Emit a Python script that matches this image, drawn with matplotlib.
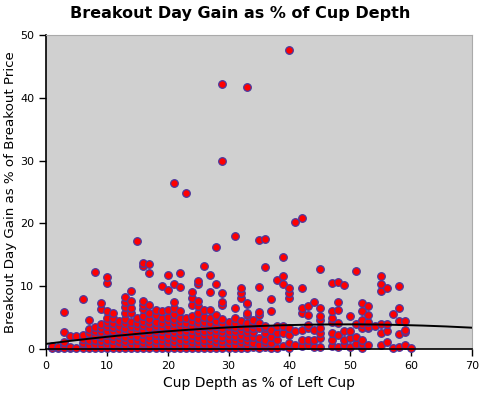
import numpy as np
import matplotlib
matplotlib.use("Agg")
import matplotlib.pyplot as plt

# Cup depth (% of left cup) for each column of points
depths = list(range(1, 61))

# Breakout day gain (% of breakout price), one list per cup depth
gains = [
    [0.2, 0.5],
    [0.1, 0.4],
    [0.2, 0.6, 1.2, 2.7, 5.9],
    [0.1, 0.4, 2.1],
    [0.2, 2.1],
    [0.2, 0.9, 1.6, 2.3, 8.0],
    [0.1, 0.7, 1.4, 2.5, 3.2, 4.6],
    [0.2, 0.8, 1.5, 2.2, 2.9, 3.5, 12.3],
    [0.1, 0.6, 1.3, 2.0, 2.7, 3.4, 4.0, 6.4, 7.4],
    [0.2, 0.8, 1.5, 2.2, 2.9, 3.6, 4.3, 5.0, 6.0, 10.6, 11.5],
    [0.1, 0.7, 1.4, 2.1, 2.8, 3.5, 4.2, 4.9, 5.7],
    [0.2, 0.9, 1.6, 2.3, 3.0, 3.7, 4.4],
    [0.1, 0.6, 1.3, 2.0, 2.7, 3.4, 4.1, 4.8, 5.8, 6.7, 7.5, 8.3],
    [0.2, 0.8, 1.5, 2.2, 2.9, 3.6, 4.3, 5.8, 6.5, 7.6, 9.2],
    [0.1, 0.7, 1.4, 2.1, 2.8, 3.5, 4.2, 4.9, 17.2],
    [0.2, 0.9, 1.6, 2.4, 3.1, 3.8, 4.5, 5.2, 6.4, 7.0, 7.6, 13.2, 13.7],
    [0.1, 0.6, 1.3, 2.0, 2.7, 3.4, 4.1, 4.8, 5.7, 7.0, 12.1, 13.5],
    [0.2, 0.8, 1.5, 2.2, 2.9, 3.6, 4.3, 5.4, 6.3],
    [0.1, 0.7, 1.4, 2.1, 2.8, 3.5, 4.2, 4.9, 6.1, 10.1],
    [0.2, 0.9, 1.6, 2.3, 3.0, 3.7, 4.4, 5.1, 6.3, 9.4, 11.8],
    [0.1, 0.6, 1.3, 2.0, 2.7, 3.4, 4.1, 4.8, 5.6, 6.6, 7.5, 10.3, 26.5],
    [0.2, 0.8, 1.5, 2.2, 2.9, 3.6, 4.3, 5.0, 6.1, 9.9, 12.1],
    [0.1, 0.7, 1.4, 2.1, 2.8, 3.5, 4.2, 4.9, 24.9],
    [0.2, 0.9, 1.6, 2.3, 3.0, 3.7, 4.4, 5.2, 7.0, 8.1, 9.1],
    [0.1, 0.6, 1.3, 2.0, 2.7, 3.4, 4.1, 4.8, 5.8, 6.8, 7.6, 10.3, 10.8],
    [0.2, 0.8, 1.5, 2.2, 2.9, 3.6, 4.3, 5.1, 6.3, 13.3],
    [0.1, 0.7, 1.4, 2.1, 2.8, 3.5, 4.2, 4.9, 6.2, 9.1, 11.8],
    [0.2, 0.9, 1.6, 2.3, 3.0, 3.7, 4.4, 5.4, 10.4, 16.3],
    [0.1, 0.6, 1.3, 2.0, 2.7, 3.4, 4.1, 4.8, 7.0, 7.5, 8.9, 30.0, 42.2],
    [0.2, 0.8, 1.5, 2.2, 2.9, 3.6, 4.3],
    [0.1, 0.7, 1.4, 2.1, 2.8, 3.5, 4.2, 4.9, 6.6, 18.0],
    [0.2, 0.9, 1.6, 2.3, 3.0, 3.7, 4.4, 8.2, 8.9, 9.7],
    [0.1, 0.6, 1.3, 2.0, 2.7, 3.4, 4.1, 5.4, 5.8, 7.2, 7.3, 41.7],
    [0.4, 0.9, 2.0, 2.7, 3.3, 4.0, 4.6],
    [0.2, 0.6, 1.7, 3.3, 4.1, 5.4, 5.9, 9.9, 17.4],
    [0.3, 0.9, 1.4, 2.5, 3.3, 3.6, 13.0, 17.6],
    [0.2, 1.0, 2.0, 3.0, 6.1, 8.0],
    [0.2, 1.4, 2.5, 3.6, 11.0],
    [0.5, 2.5, 3.6, 10.3, 11.7, 14.6],
    [0.2, 0.9, 2.2, 3.4, 8.2, 8.9, 9.8, 47.6],
    [0.6, 2.8, 20.3],
    [0.5, 1.5, 3.0, 5.8, 6.6, 9.8, 20.9],
    [0.6, 1.4, 3.3, 3.8, 5.4, 6.8],
    [0.4, 1.4, 3.0, 7.5],
    [0.4, 1.7, 2.5, 3.3, 4.7, 5.2, 6.6, 12.8],
    [],
    [0.5, 1.4, 2.5, 4.3, 4.9, 6.1, 10.6],
    [0.4, 2.2, 4.2, 6.3, 7.5, 10.7],
    [0.6, 1.4, 2.8, 10.2],
    [0.4, 1.7, 2.8, 5.3],
    [0.8, 1.85, 4.0, 12.5],
    [0.1, 0.8, 1.4, 3.4, 4.0, 4.6, 6.1, 7.3],
    [0.6, 3.4, 3.5, 4.3, 5.4, 6.8],
    [3.7],
    [0.6, 2.6, 4.0, 9.3, 10.3, 11.7],
    [1.2, 2.9, 4.0, 9.8],
    [0.1, 5.6],
    [0.4, 2.4, 4.5, 6.6, 10.1],
    [0.7, 2.7, 3.0, 4.5],
    [0.1],
]

# trend line at a few depths
trend_x = [0, 17, 34, 51, 70]
trend_y = [0.9, 2.45, 3.65, 4.05, 3.35]

x = [d for d, g in zip(depths, gains) for _ in g]
y = [v for g in gains for v in g]

fig = plt.figure(figsize=(4.8, 3.94), dpi=100)
ax = fig.add_axes([0.096, 0.114, 0.887, 0.797])
ax.set_facecolor('#d0d0d0')

ax.scatter(x, y, s=30, c='red', edgecolors='#4a3aa0', linewidths=0.9,
           zorder=2, clip_on=False)

coef = np.polyfit(trend_x, trend_y, 2)
xs = np.linspace(0, 70, 200)
ax.plot(xs, np.polyval(coef, xs), color='black', lw=1.4, zorder=3)

ax.set_xlim(0, 70)
ax.set_ylim(0, 50)
ax.set_xticks(range(0, 71, 10))
ax.set_yticks(range(0, 51, 10))
ax.tick_params(labelsize=8, length=5, width=1)
for side in ['top', 'right']:
    ax.spines[side].set_color('#aaaaaa')
for side in ['left', 'bottom']:
    ax.spines[side].set_color('black')
    ax.spines[side].set_linewidth(1.2)

ax.set_xlabel('Cup Depth as % of Left Cup', fontsize=10)
ax.set_ylabel('Breakout Day Gain as % of Breakout Price', fontsize=9.6, labelpad=2)
# title is centred on the whole figure in the reference, not on the axes
fig.text(0.5, 0.965, 'Breakout Day Gain as % of Cup Depth', ha='center', va='center',
         fontsize=11.5, fontweight='bold')

fig.savefig('out.png', dpi=100)
